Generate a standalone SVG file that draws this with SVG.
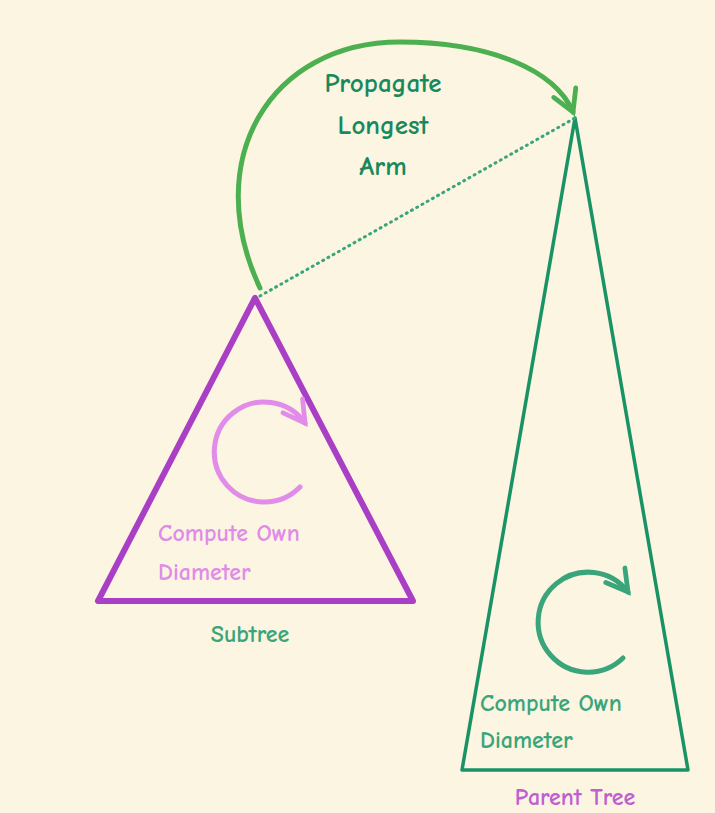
<svg xmlns="http://www.w3.org/2000/svg" width="715" height="813" viewBox="0 0 715 813">
<defs>
<style>
text{font-family:"Comic Neue","Open Sans","Liberation Sans",sans-serif;font-weight:bold;}
.t1{font-size:27px;fill:#17895c;text-anchor:middle;}
.lab{font-size:24px;}
</style>
<marker id="ag" viewBox="0 0 10 10" refX="8" refY="5" markerWidth="6" markerHeight="6" orient="auto" markerUnits="strokeWidth"><path d="M1,1 L8,5 L1,9" fill="none" stroke="#4caf50" stroke-width="1.6" stroke-linecap="round"/></marker>
<marker id="ap" viewBox="0 0 10 10" refX="8" refY="5" markerWidth="6" markerHeight="6" orient="auto" markerUnits="strokeWidth"><path d="M1,1 L8,5 L1,9" fill="none" stroke="#e08ce8" stroke-width="1.6" stroke-linecap="round"/></marker>
<marker id="at" viewBox="0 0 10 10" refX="8" refY="5" markerWidth="6" markerHeight="6" orient="auto" markerUnits="strokeWidth"><path d="M1,1 L8,5 L1,9" fill="none" stroke="#3aa57a" stroke-width="1.6" stroke-linecap="round"/></marker>
</defs>
<rect width="715" height="813" fill="#fcf5e1"/>
<g id="subtree">
<path d="M255,298 L98,601 L413,601 Z" fill="none" stroke="#a93fc4" stroke-width="6" stroke-linejoin="round"/>
<path d="M300,487 A50,50 0 1 1 305,423" fill="none" stroke="#e08ce8" stroke-width="5" stroke-linecap="round" marker-end="url(#ap)"/>
<text class="lab" x="158" y="541" fill="#e08ce8">Compute Own</text>
<text class="lab" x="158" y="580" fill="#e08ce8">Diameter</text>
<text class="lab" x="250" y="642" fill="#3aa57a" text-anchor="middle">Subtree</text>
</g>
<g id="parent">
<path d="M575,118 L462,770 L688,770 Z" fill="none" stroke="#199366" stroke-width="3.5" stroke-linejoin="round"/>
<path d="M623,658 A50,50 0 1 1 628,592" fill="none" stroke="#3aa57a" stroke-width="5" stroke-linecap="round" marker-end="url(#at)"/>
<text class="lab" x="480" y="711" fill="#3aa57a">Compute Own</text>
<text class="lab" x="480" y="748" fill="#3aa57a">Diameter</text>
<text class="lab" x="575" y="805" fill="#c060d0" text-anchor="middle">Parent Tree</text>
</g>
<g id="connectors">
<path d="M260,288 C200,160 270,42 400,42 C490,42 555,70 573,112" fill="none" stroke="#4caf50" stroke-width="5" stroke-linecap="round" marker-end="url(#ag)"/>
<line x1="260" y1="296" x2="575" y2="118" stroke="#3aa57a" stroke-width="3" stroke-dasharray="1 5" stroke-linecap="round"/>
<text class="t1" x="383" y="92">Propagate</text>
<text class="t1" x="383" y="134">Longest</text>
<text class="t1" x="383" y="175">Arm</text>
</g>
</svg>
